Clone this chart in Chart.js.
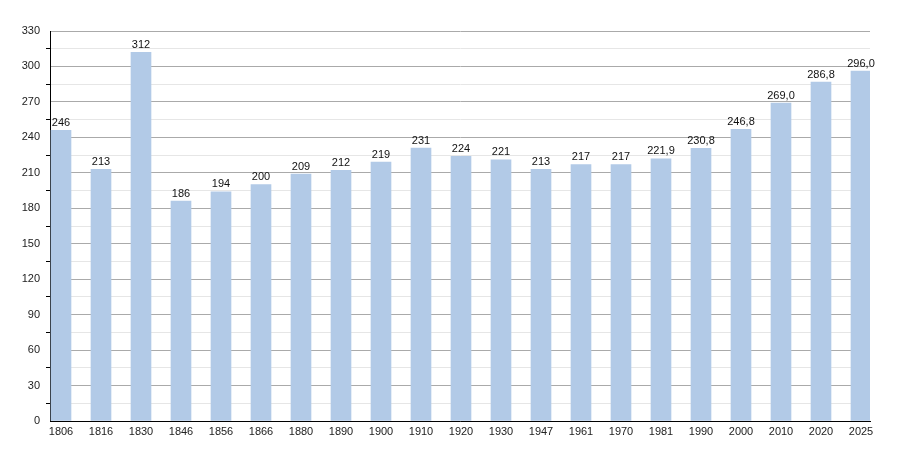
<!DOCTYPE html>
<html>
<head>
<meta charset="utf-8">
<script src="https://cdn.jsdelivr.net/npm/chart.js@4/dist/chart.umd.min.js"></script>
<style>
  html, body { margin: 0; padding: 0; background: #fff; }
  #wrap { width: 900px; height: 450px; }
</style>
</head>
<body>
<div id="wrap"><canvas id="grafik"></canvas></div>
<script>
const years = ['1806', '1816', '1830', '1846', '1856', '1866', '1880', '1890', '1900', '1910', '1920',
  '1930', '1947', '1961', '1970', '1981', '1990', '2000', '2010', '2020', '2025'];
const population = [246, 213, 312, 186, 194, 200, 209, 212, 219, 231, 224,
  221, 213, 217, 217, 221.9, 230.8, 246.8, 269.0, 286.8, 296.0];
const valueLabels = ['246', '213', '312', '186', '194', '200', '209', '212', '219', '231', '224',
  '221', '213', '217', '217', '221,9', '230,8', '246,8', '269,0', '286,8', '296,0'];
const yTicks = [0, 30, 60, 90, 120, 150, 180, 210, 240, 270, 300, 330];

Chart.defaults.font.family = '"Liberation Sans", Arial, sans-serif';
Chart.defaults.font.size = 11;
Chart.defaults.color = '#222';

const barLabels = {
  id: 'barLabels',
  afterDatasetsDraw(chart) {
    const ctx = chart.ctx;
    const meta = chart.getDatasetMeta(0);
    ctx.save();
    ctx.font = '11px "Liberation Sans", Arial, sans-serif';
    ctx.fillStyle = '#111';
    ctx.textAlign = 'center';
    ctx.textBaseline = 'bottom';
    meta.data.forEach((bar, i) => {
      ctx.fillText(valueLabels[i], bar.x, bar.y - 2);
    });
    ctx.restore();
  }
};

const data = {
  datasets: [{
    data: population.map((v, i) => ({ x: i, y: v })),
    backgroundColor: 'rgb(178,202,231)',
    borderWidth: 0,
    barThickness: 20
  }]
};

const config = {
  type: 'bar',
  data: data,
  options: {
    responsive: false,
    animation: false,
    layout: { padding: { top: 31, right: 30, left: 0, bottom: 0 } },
    plugins: {
      legend: { display: false },
      tooltip: { enabled: false }
    },
    scales: {
      x: {
        type: 'linear',
        offset: false,
        min: -0.275,
        max: 20.225,
        afterBuildTicks(scale) {
          scale.ticks = years.map((y, i) => ({ value: i }));
        },
        afterFit(scale) { scale.height = 29; },
        grid: { drawOnChartArea: false, drawTicks: false, offset: false },
        border: { color: '#000', width: 1 },
        ticks: {
          padding: 4,
          maxRotation: 0,
          autoSkip: false,
          color: '#222',
          callback: (v) => years[v]
        }
      },
      y: {
        min: 0,
        max: 330,
        afterBuildTicks(scale) {
          const t = [];
          for (let v = 0; v <= 330; v += 15) t.push({ value: v });
          scale.ticks = t;
        },
        afterFit(scale) { scale.width = 50; },
        border: { color: '#000', width: 1 },
        grid: {
          color: (c) => (c.tick.value % 30 === 0 ? '#aaaaaa' : '#e6e6e6'),
          tickColor: (c) => (c.tick.value % 30 === 0 ? 'rgba(0,0,0,0)' : '#000'),
          tickLength: 4
        },
        ticks: {
          padding: 6,
          color: '#222',
          autoSkip: false,
          callback: (v) => (yTicks.includes(v) ? String(v) : '')
        }
      }
    }
  },
  plugins: [barLabels]
};

const canvas = document.getElementById('grafik');
canvas.width = 900;
canvas.height = 450;
const myChart = new Chart(canvas, config);
</script>
</body>
</html>
